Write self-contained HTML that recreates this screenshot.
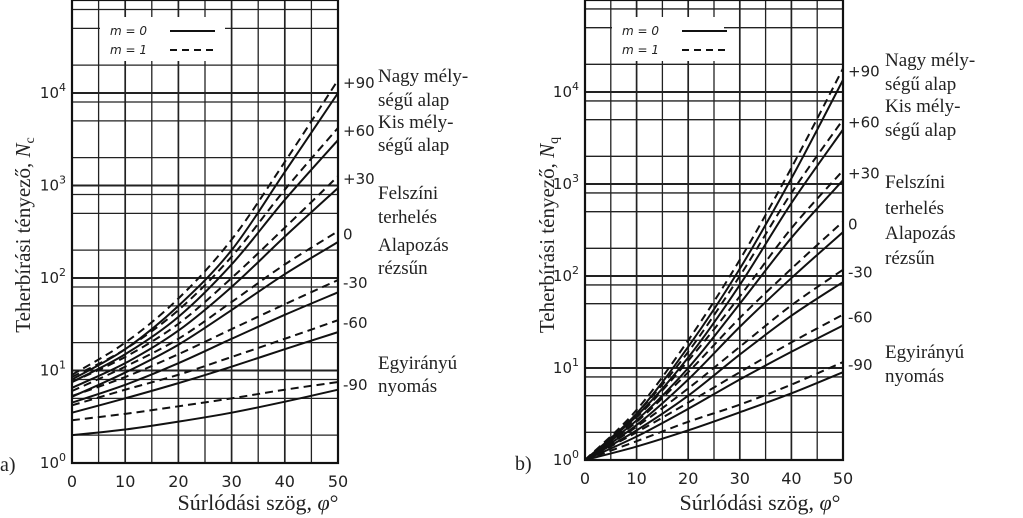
<!DOCTYPE html>
<html><head><meta charset="utf-8"><style>
html,body{margin:0;padding:0;background:#fff;width:1023px;height:518px;overflow:hidden}
svg text{font-family:"Liberation Serif",serif;fill:#222}
.sans{font-family:"DejaVu Sans","Liberation Sans",sans-serif!important}
</style></head><body>
<svg id="fig" width="1023" height="518" viewBox="0 0 1023 518" xmlns="http://www.w3.org/2000/svg"></svg>
<script>
const phiTicks = [0, 10, 20, 30, 40, 50];
const phiSamples = [0, 10, 20, 30, 40, 50];
const inclinationLabels = ["+90", "+60", "+30", "0", "-30", "-60", "-90"];
// Nc (chart a): dashed m=1, solid m=0 per inclination
const ncDashed = [[9,20,60,260,1800,13800],[8.5,17,45,170,900,4200],[7.5,14,32,100,350,1260],[6,11,22,55,140,320],[5.3,8.5,15,28,52,95],[4.2,6.2,9,14,22,35],[2.9,3.4,4.1,5,6.2,7.5]];
const ncSolid = [[8,17,50,200,1400,10000],[7.5,15,38,140,700,3100],[6.5,12,27,80,280,940],[5.2,9.5,19,45,110,245],[4.5,7,12,22,40,70],[3.5,5,7.3,11,17,26],[2,2.3,2.8,3.5,4.6,6.2]];
// Nq (chart b)
const nqDashed = [[1,3.5,20,150,1500,18000],[1,3.2,15,100,800,5000],[1,2.9,12,60,330,1400],[1,2.6,9,35,120,390],[1,2.3,6,17,48,117],[1,2,4.2,9,19,38],[1,1.6,2.6,4,6.6,11.6]];
const nqSolid = [[1,3.2,17,120,1150,13500],[1,3,13,80,620,3900],[1,2.7,10,50,260,1100],[1,2.4,7.5,28,95,300],[1,2.1,5,14,37,86],[1,1.8,3.6,7.5,15,29],[1,1.4,2.1,3.3,5.3,9]];
const decadeLabels = ["0","1","2","3","4"];
const minorMult = [2,5,8];

const NS="http://www.w3.org/2000/svg";
const svg=document.getElementById('fig');
function mk(tag,attrs,parent){const e=document.createElementNS(NS,tag);for(const k in attrs)e.setAttribute(k,attrs[k]);(parent||svg).appendChild(e);return e;}

function chart(o){
  const g=mk('g',{});
  
  
  const X=v=>o.x0+(o.x1-o.x0)*v/50;
  const Y=v=>o.y0-o.dec*Math.log10(v);
  for(let p=0;p<=50;p+=5){const l=mk('line',{x1:X(p),x2:X(p),y1:0,y2:o.y0,stroke:'#222','stroke-width':p%10===0?1.7:1.3},g);
    }
  for(let d=0;d<5;d++){
    const l=mk('line',{x1:o.x0,x2:o.x1,y1:Y(Math.pow(10,d)),y2:Y(Math.pow(10,d)),stroke:'#222','stroke-width':1.9},g);
    
    for(const m of minorMult){const yy=Y(m*Math.pow(10,d));if(yy<0)continue;
      const k=mk('line',{x1:o.x0,x2:o.x1,y1:yy,y2:yy,stroke:'#222','stroke-width':1.3},g);
      }
  }
  const fr=mk('rect',{x:o.x0,y:0,width:o.x1-o.x0,height:o.y0,fill:'none',stroke:'#111','stroke-width':2.2},g);
  
  function path(vals){
    const pts=phiSamples.map((p,i)=>[X(p),Y(vals[i])]);
    let d='M'+pts[0][0]+','+pts[0][1];
    for(let i=0;i<pts.length-1;i++){
      const p0=pts[Math.max(i-1,0)],p1=pts[i],p2=pts[i+1],p3=pts[Math.min(i+2,pts.length-1)];
      const c1=[p1[0]+(p2[0]-p0[0])/6,p1[1]+(p2[1]-p0[1])/6],c2=[p2[0]-(p3[0]-p1[0])/6,p2[1]-(p3[1]-p1[1])/6];
      d+=` C${c1[0]},${c1[1]} ${c2[0]},${c2[1]} ${p2[0]},${p2[1]}`;
    }
    return d;
  }
  o.dashed.forEach((v,i)=>{const p=mk('path',{d:path(v),fill:'none',stroke:'#111','stroke-width':2,'stroke-dasharray':'8,5'},g);
    });
  o.solid.forEach((v,i)=>{const p=mk('path',{d:path(v),fill:'none',stroke:'#111','stroke-width':2},g);
    });
  const lg=mk('g',{},g);
  mk('rect',{x:o.lx,y:17,width:o.lw,height:44,fill:'#fff'},lg);
  const t1=mk('text',{x:o.lx+10,y:35,'font-size':12,class:'sans','font-style':'italic'},lg);t1.textContent='m = 0';
  
  const t2=mk('text',{x:o.lx+10,y:54,'font-size':12,class:'sans','font-style':'italic'},lg);t2.textContent='m = 1';
  
  mk('line',{x1:o.lx+70,x2:o.lx+115,y1:31,y2:31,stroke:'#111','stroke-width':1.9},lg);
  mk('line',{x1:o.lx+70,x2:o.lx+115,y1:50,y2:50,stroke:'#111','stroke-width':1.9,'stroke-dasharray':'7,5'},lg);
  phiTicks.forEach(p=>{const t=mk('text',{x:X(p),y:o.y0+24,'font-size':16,class:'sans','text-anchor':'middle'},g);t.textContent=p;
    });
  decadeLabels.forEach((s,d)=>{const t=mk('text',{x:o.x0-6,y:Y(Math.pow(10,d))+5,'font-size':15,class:'sans','text-anchor':'end'},g);
    t.textContent='10';const sp=mk('tspan',{dy:-7,'font-size':11},t);sp.textContent=s;
    });
  o.dashed.forEach((v,i)=>{const t=mk('text',{x:o.x1+5,y:Y(v[5])+8,'font-size':15,class:'sans'},g);t.textContent=inclinationLabels[i];
    });
  const yt=mk('text',{x:0,y:0,'font-size':21,'text-anchor':'middle',transform:`translate(${o.ytx},${o.yty}) rotate(-90)`},g);
  yt.textContent='Teherbírási tényező, ';const ti=mk('tspan',{'font-style':'italic'},yt);ti.textContent='N';
  const ts=mk('tspan',{'font-size':14,dy:4},yt);ts.textContent=o.sub;
  
  const xt=mk('text',{x:o.xtx,y:510,'font-size':22,'text-anchor':'middle'},g);
  xt.textContent='Súrlódási szög, ';const xi=mk('tspan',{'font-style':'italic'},xt);xi.textContent='φ';
  const xd=mk('tspan',{},xt);xd.textContent='°';
  
  const pl=mk('text',{x:o.plx,y:o.ply,'font-size':20},g);pl.textContent=o.panel;
  
  o.desc.forEach(([s,y])=>{const t=mk('text',{x:o.dx,y:y,'font-size':19},g);t.textContent=s;
    });
}
const descA=[["Nagy mély-",82],["ségű alap",106],["Kis mély-",128],["ségű alap",151],["Felszíni",199],["terhelés",223],["Alapozás",251],["rézsűn",274],["Egyirányú",369],["nyomás",392]];
const descB=[["Nagy mély-",66],["ségű alap",90],["Kis mély-",112],["ségű alap",136],["Felszíni",188],["terhelés",214],["Alapozás",239],["rézsűn",264],["Egyirányú",358],["nyomás",382]];
chart({name:'chart-a-nc',x0:72,x1:338,y0:463,dec:92.5,lx:100,lw:125,dashed:ncDashed,solid:ncSolid,sub:'c',ytx:30,yty:235,xtx:258,plx:0,ply:471,panel:'a)',dx:378,desc:descA});
chart({name:'chart-b-nq',x0:585,x1:843,y0:460,dec:92,lx:612,lw:112,dashed:nqDashed,solid:nqSolid,sub:'q',ytx:554,yty:235,xtx:760,plx:515,ply:470,panel:'b)',dx:885,desc:descB});
</script>
</body></html>
